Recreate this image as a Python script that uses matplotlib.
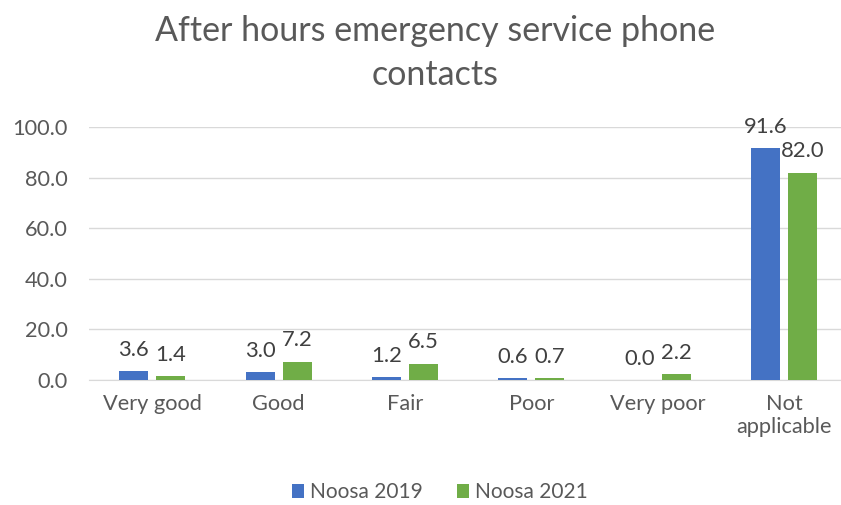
import matplotlib.pyplot as plt
import numpy as np

categories = ['Very good', 'Good', 'Fair', 'Poor', 'Very poor', 'Not\napplicable']
noosa_2019 = [3.6, 3.0, 1.2, 0.6, 0.0, 91.6]
noosa_2021 = [1.4, 7.2, 6.5, 0.7, 2.2, 82.0]
series_names = ['Noosa 2019', 'Noosa 2021']
colors = ['#4472C4', '#70AD47']

plt.rcParams['font.family'] = ['Lato', 'DejaVu Sans']

fig = plt.figure(figsize=(8.41, 5.05), dpi=100)
ax = fig.add_axes([89 / 841, 0.2475, 758.4 / 841, 0.501])

x = np.arange(len(categories))
w = 0.23
gap = 0.063
off = (w + gap) / 2
for vals, name, c, d in zip([noosa_2019, noosa_2021], series_names, colors, [-1, 1]):
    bars = ax.bar(x + d * off, vals, w, color=c, label=name, zorder=3)
    for b, v in zip(bars, vals):
        ax.text(b.get_x() + b.get_width() / 2, v + 4.5, f'{v:.1f}',
                ha='center', va='bottom', fontsize=15.8, color='#404040')

ax.set_xlim(-0.5, len(categories) - 0.5)
ax.set_ylim(0, 100)
ax.set_yticks(np.arange(0, 101, 20))
ax.set_yticklabels([f'{t:.1f}' for t in np.arange(0, 101, 20)])
ax.set_xticks(x)
ax.set_xticklabels(categories)
ax.tick_params(axis='both', length=0, labelsize=15.7, colors='#595959')
ax.tick_params(axis='y', pad=15.5)
ax.tick_params(axis='x', pad=10)
ax.grid(axis='y', color='#D9D9D9', linewidth=1, zorder=0)
for s in ['top', 'right', 'left']:
    ax.spines[s].set_visible(False)
ax.spines['bottom'].set_color('#D9D9D9')

fig.text(0.517, 1 - 15 / 505, 'After hours emergency service phone\ncontacts',
         fontsize=24.5, color='#595959', ha='center', va='top', linespacing=1.45)

fig.legend(loc='lower center', ncol=2, frameon=False, fontsize=15,
           bbox_to_anchor=(0.523, -0.032), handlelength=0.6, handleheight=0.6,
           columnspacing=1.6, handletextpad=0.3, labelcolor='#595959')

fig.savefig('out.png', dpi=100)
